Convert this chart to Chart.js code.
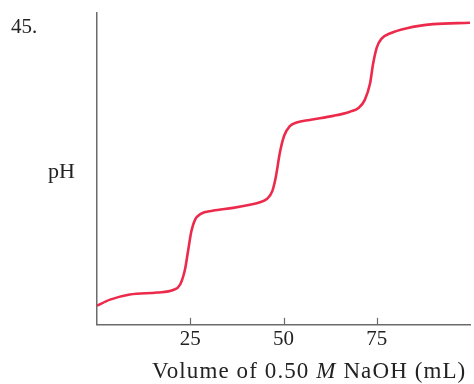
<!DOCTYPE html>
<html>
<head>
<meta charset="utf-8">
<script src="https://cdn.jsdelivr.net/npm/chart.js@4/dist/chart.umd.min.js"></script>
<style>
  html, body { margin: 0; padding: 0; background: #fff; }
  #wrap { position: relative; width: 474px; height: 384px; }
  canvas { position: absolute; left: 0; top: 0; }
  .lbl { position: absolute; font-family: "Liberation Serif", "DejaVu Serif", serif; color: #222; white-space: nowrap; line-height: 1; }
</style>
</head>
<body>
<div id="wrap">
  <canvas id="c" width="474" height="384"></canvas>
  <div class="lbl" id="num" style="left:11px; top:16px; font-size:21px;">45.</div>
  <div class="lbl" id="ph" style="left:48px; top:160px; font-size:22px;">pH</div>
  <div class="lbl" id="xt" style="left:152px; top:359px; font-size:23px; letter-spacing:1.1px;">Volume of 0.50 <i>M</i> NaOH (mL)</div>
</div>
<script>
// Titration curve
const volumeML = [0, 3.5, 8.8, 16.1, 20.4, 22.3, 23.6, 24.4, 25.3, 26.3, 27.8, 31.0, 36.5, 41.0, 43.7, 45.6, 47.0, 47.9, 49.1, 50.2, 51.7, 53.5, 57.0, 63.3, 67.8, 70.2, 71.8, 73.2, 74.0, 75.0, 76.3, 78.5, 83.1, 90.1, 100];
const pHValues = [0.86, 1.13, 1.36, 1.45, 1.56, 1.81, 2.49, 3.30, 4.20, 4.72, 4.98, 5.12, 5.25, 5.39, 5.50, 5.66, 6.00, 6.60, 7.79, 8.50, 8.92, 9.08, 9.20, 9.38, 9.57, 9.75, 10.10, 10.83, 11.70, 12.45, 12.85, 13.08, 13.32, 13.50, 13.56];
const xTickLabels = [25, 50, 75];

const points = volumeML.map((v, i) => ({ x: v, y: pHValues[i] }));

const innerTicks = {
  id: 'innerTicks',
  afterDraw(chart) {
    const xs = chart.scales.x;
    const ctx = chart.ctx;
    const yb = chart.chartArea.bottom;
    ctx.save();
    ctx.strokeStyle = '#6b6b6b';
    ctx.lineWidth = 1.2;
    xTickLabels.forEach(t => {
      const px = Math.round(xs.getPixelForValue(t)) + 0.5;
      ctx.beginPath();
      ctx.moveTo(px, yb);
      ctx.lineTo(px, yb - 7);
      ctx.stroke();
    });
    ctx.restore();
  }
};

new Chart(document.getElementById('c'), {
  type: 'scatter',
  data: {
    datasets: [{
      data: points,
      showLine: true,
      borderColor: '#ec2b4c',
      borderWidth: 2.6,
      pointRadius: 0,
      cubicInterpolationMode: 'monotone',
      fill: false
    }]
  },
  options: {
    responsive: false,
    animation: false,
    layout: { padding: { left: 97, right: 4, top: 13, bottom: 30 } },
    plugins: { legend: { display: false }, tooltip: { enabled: false } },
    scales: {
      x: {
        type: 'linear',
        min: 0, max: 100,
        grid: { display: false, drawTicks: false },
        border: { display: true, color: '#6b6b6b', width: 1.5 },
        afterBuildTicks(scale) { scale.ticks = xTickLabels.map(v => ({ value: v })); },
        ticks: {
          autoSkip: false,
          padding: 2,
          color: '#222',
          font: { family: '"Liberation Serif", "DejaVu Serif", serif', size: 21 },
          callback: v => String(v)
        }
      },
      y: {
        type: 'linear',
        min: 0, max: 14,
        grid: { display: false, drawTicks: false },
        border: { display: true, color: '#6b6b6b', width: 1.5 },
        ticks: { display: false }
      }
    }
  },
  plugins: [innerTicks]
});
</script>
</body>
</html>
